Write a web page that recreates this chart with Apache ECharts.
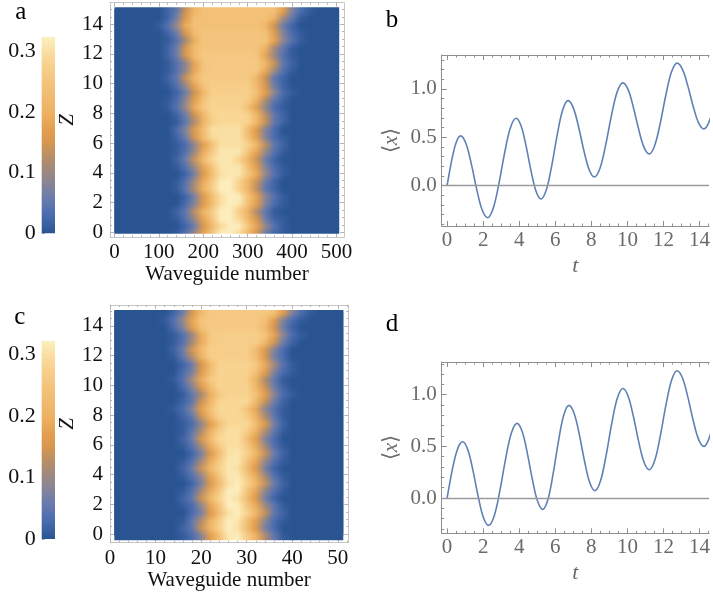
<!DOCTYPE html>
<html><head><meta charset="utf-8">
<script src="https://cdn.jsdelivr.net/npm/echarts@6/dist/echarts.min.js"></script>
<style>html,body{margin:0;padding:0;background:#fff}#c{width:713px;height:597px}</style>
</head><body><div id="c"></div>
<script>
// ---------------- data ----------------
const tTicks = [0, 2, 4, 6, 8, 10, 12, 14];
const meanXTicks = [0, 0.5, 1.0];
const zTicks = [0, 2, 4, 6, 8, 10, 12, 14];
const waveTicksA = [0, 100, 200, 300, 400, 500];
const waveTicksC = [0, 10, 20, 30, 40, 50];
const cbarTicks = [0, 0.1, 0.2, 0.3];

// heat map sample grid
const colsA = [0,20,40,60,80,100,120,140,160,180,200,220,240,260,280,300,320,340,360,380,400,420,440,460,480,500];
const colsC = [0,2,4,6,8,10,12,14,16,18,20,22,24,26,28,30,32,34,36,38,40,42,44,46,48,50];
const zRows = [0,0.5,1,1.5,2,2.5,3,3.5,4,4.5,5,5.5,6,6.5,7,7.5,8,8.5,9,9.5,10,10.5,11,11.5,12,12.5,13,13.5,14,14.5,15];

// intensity in units of 0.01 (rows = zRows, columns = colsA / colsC)
const intensityA = [
[0,0,0,0,0,0,0,1,4,10,18,25,32,32,29,22,15,6,2,1,0,0,0,0,0,0],
[0,0,0,0,0,0,0,0,2,6,15,22,29,32,32,26,18,10,4,1,0,0,0,0,0,0],
[0,0,0,0,0,0,0,1,4,10,18,25,32,32,29,22,15,6,2,1,0,0,0,0,0,0],
[0,0,0,0,0,0,0,2,5,13,20,27,32,32,27,20,12,5,1,0,0,0,0,0,0,0],
[0,0,0,0,0,0,0,0,3,8,16,23,30,32,31,24,17,8,3,1,0,0,0,0,0,0],
[0,0,0,0,0,0,0,0,2,7,16,23,30,32,32,25,18,9,4,1,0,0,0,0,0,0],
[0,0,0,0,0,0,0,1,5,12,20,27,32,32,28,21,13,5,2,0,0,0,0,0,0,0],
[0,0,0,0,0,0,0,1,4,11,19,26,32,32,28,21,14,6,2,0,0,0,0,0,0,0],
[0,0,0,0,0,0,0,0,2,7,16,23,30,31,31,26,19,10,4,1,0,0,0,0,0,0],
[0,0,0,0,0,0,0,1,4,10,18,25,31,31,31,24,17,8,3,1,0,0,0,0,0,0],
[0,0,0,0,0,0,0,2,6,14,22,29,31,31,28,21,14,6,2,0,0,0,0,0,0,0],
[0,0,0,0,0,0,0,1,4,10,19,26,31,31,31,25,18,10,4,1,0,0,0,0,0,0],
[0,0,0,0,0,0,0,1,3,9,17,24,30,30,30,28,21,13,5,2,0,0,0,0,0,0],
[0,0,0,0,0,0,0,2,6,15,22,29,30,30,30,24,17,8,3,1,0,0,0,0,0,0],
[0,0,0,0,0,0,0,3,8,16,23,30,30,30,30,23,16,8,3,0,0,0,0,0,0,0],
[0,0,0,0,0,0,0,1,5,12,20,27,29,29,29,28,21,14,5,2,0,0,0,0,0,0],
[0,0,0,0,0,0,0,2,6,14,21,28,29,29,29,28,21,13,5,2,0,0,0,0,0,0],
[0,0,0,0,0,0,1,4,10,19,26,28,28,28,28,24,17,9,3,1,0,0,0,0,0,0],
[0,0,0,0,0,0,1,3,9,17,24,28,28,28,28,27,20,12,5,2,0,0,0,0,0,0],
[0,0,0,0,0,0,0,2,6,14,21,27,27,27,27,27,24,17,9,3,1,0,0,0,0,0],
[0,0,0,0,0,0,1,4,10,18,25,27,27,27,27,27,22,15,6,2,0,0,0,0,0,0],
[0,0,0,0,0,0,2,5,14,21,26,26,26,26,26,26,21,14,5,2,0,0,0,0,0,0],
[0,0,0,0,0,0,1,4,9,18,25,26,26,26,26,26,26,19,11,4,1,0,0,0,0,0],
[0,0,0,0,0,0,1,4,9,18,25,26,26,26,26,26,26,21,14,5,2,0,0,0,0,0],
[0,0,0,0,0,0,2,6,15,22,26,26,26,26,26,26,25,18,10,4,1,0,0,0,0,0],
[0,0,0,0,0,0,2,6,15,22,25,25,25,25,25,25,25,20,11,5,1,0,0,0,0,0],
[0,0,0,0,0,0,1,4,11,19,25,25,25,25,25,25,25,25,18,9,4,1,0,0,0,0],
[0,0,0,0,0,0,2,6,15,22,25,25,25,25,25,25,25,24,17,8,3,1,0,0,0,0],
[0,0,0,0,0,1,4,10,19,24,24,24,24,24,24,24,24,21,14,6,2,0,0,0,0,0],
[0,0,0,0,0,0,2,7,16,23,24,24,24,24,24,24,24,24,20,11,5,1,0,0,0,0],
[0,0,0,0,0,0,2,5,14,21,24,24,24,24,24,24,24,24,24,17,8,3,1,0,0,0]
];
const intensityC = [
[0,0,0,0,0,0,0,0,1,3,8,17,24,31,32,27,20,12,5,1,0,0,0,0,0,0],
[0,0,0,0,0,0,0,0,2,5,14,21,28,32,30,23,16,7,3,0,0,0,0,0,0,0],
[0,0,0,0,0,0,0,0,1,5,12,20,27,32,31,24,17,9,3,1,0,0,0,0,0,0],
[0,0,0,0,0,0,0,0,0,3,7,16,23,30,32,28,21,14,5,2,0,0,0,0,0,0],
[0,0,0,0,0,0,0,0,1,3,9,18,25,32,32,26,19,11,5,1,0,0,0,0,0,0],
[0,0,0,0,0,0,0,0,2,5,14,21,28,32,30,23,16,7,2,0,0,0,0,0,0,0],
[0,0,0,0,0,0,0,0,1,4,11,19,26,32,32,25,18,9,4,1,0,0,0,0,0,0],
[0,0,0,0,0,0,0,0,0,2,7,16,23,30,32,28,21,14,6,2,0,0,0,0,0,0],
[0,0,0,0,0,0,0,0,1,4,9,18,25,31,31,26,19,11,4,1,0,0,0,0,0,0],
[0,0,0,0,0,0,0,0,2,6,14,21,28,31,30,23,16,7,2,0,0,0,0,0,0,0],
[0,0,0,0,0,0,0,0,1,4,11,19,26,31,31,25,18,10,4,1,0,0,0,0,0,0],
[0,0,0,0,0,0,0,0,0,2,7,16,23,30,31,28,21,14,6,2,0,0,0,0,0,0],
[0,0,0,0,0,0,0,0,1,4,11,19,26,30,30,26,19,11,4,1,0,0,0,0,0,0],
[0,0,0,0,0,0,0,0,2,6,15,22,29,30,30,24,17,8,3,0,0,0,0,0,0,0],
[0,0,0,0,0,0,0,0,1,5,12,20,27,30,30,27,20,12,5,1,0,0,0,0,0,0],
[0,0,0,0,0,0,0,0,1,3,9,17,24,29,29,29,23,16,7,2,0,0,0,0,0,0],
[0,0,0,0,0,0,0,0,2,5,14,21,28,29,29,27,20,12,5,1,0,0,0,0,0,0],
[0,0,0,0,0,0,0,1,3,8,17,24,29,29,29,25,18,9,4,1,0,0,0,0,0,0],
[0,0,0,0,0,0,0,0,2,5,14,21,28,29,29,29,22,14,6,2,0,0,0,0,0,0],
[0,0,0,0,0,0,0,0,1,5,11,19,26,28,28,28,24,17,9,3,1,0,0,0,0,0],
[0,0,0,0,0,0,0,0,3,8,16,23,28,28,28,28,21,14,6,2,0,0,0,0,0,0],
[0,0,0,0,0,0,0,1,4,11,19,26,28,28,28,27,20,12,5,1,0,0,0,0,0,0],
[0,0,0,0,0,0,0,0,3,7,16,23,28,28,28,28,24,17,8,3,1,0,0,0,0,0],
[0,0,0,0,0,0,0,0,2,6,15,22,28,28,28,28,26,19,11,4,1,0,0,0,0,0],
[0,0,0,0,0,0,0,1,5,12,20,27,27,27,27,27,23,16,7,3,0,0,0,0,0,0],
[0,0,0,0,0,0,0,2,6,15,22,27,27,27,27,27,23,16,8,3,0,0,0,0,0,0],
[0,0,0,0,0,0,0,1,4,11,19,26,27,27,27,27,27,22,15,6,2,0,0,0,0,0],
[0,0,0,0,0,0,0,1,4,10,19,26,27,27,27,27,27,25,18,9,3,1,0,0,0,0],
[0,0,0,0,0,0,0,3,8,17,24,26,26,26,26,26,26,22,15,6,2,0,0,0,0,0],
[0,0,0,0,0,0,1,4,10,18,25,26,26,26,26,26,26,24,17,8,3,1,0,0,0,0],
[0,0,0,0,0,0,0,2,6,15,22,26,26,26,26,26,26,26,24,17,8,3,1,0,0,0]
];

// <x>(t) curves
const tB = [0,0.15,0.3,0.45,0.6,0.75,1.048,1.346,1.644,1.942,2.24,2.558,2.876,3.194,3.512,3.83,4.106,4.382,4.658,4.934,5.21,5.51,5.81,6.11,6.41,6.71,7.002,7.294,7.586,7.878,8.17,8.486,8.802,9.118,9.434,9.75,10.042,10.334,10.626,10.918,11.21,11.52,11.83,12.14,12.45,12.76,13.056,13.352,13.648,13.944,14.24,14.552,14.864,15.176,15.488];
const xB = [0,0.159,0.302,0.416,0.489,0.514,0.433,0.222,-0.039,-0.250,-0.331,-0.233,0.024,0.342,0.599,0.697,0.617,0.409,0.150,-0.058,-0.138,-0.041,0.213,0.528,0.782,0.879,0.804,0.606,0.363,0.165,0.090,0.183,0.426,0.726,0.969,1.062,0.992,0.808,0.582,0.398,0.328,0.418,0.652,0.942,1.176,1.266,1.201,1.031,0.821,0.651,0.586,0.669,0.885,1.151,1.367];
const tD = [0,0.172,0.344,0.516,0.688,0.86,1.148,1.436,1.724,2.012,2.30,2.616,2.932,3.248,3.564,3.88,4.164,4.448,4.732,5.016,5.30,5.592,5.884,6.176,6.468,6.76,7.048,7.336,7.624,7.912,8.20,8.51,8.82,9.13,9.44,9.75,10.042,10.334,10.626,10.918,11.21,11.52,11.83,12.14,12.45,12.76,13.056,13.352,13.648,13.944,14.24,14.552,14.864,15.176,15.488];
const xD = [0,0.168,0.320,0.441,0.518,0.545,0.468,0.265,0.015,-0.188,-0.265,-0.171,0.076,0.382,0.629,0.723,0.643,0.435,0.178,-0.030,-0.110,-0.014,0.238,0.549,0.801,0.897,0.818,0.612,0.356,0.150,0.071,0.166,0.413,0.719,0.966,1.061,0.986,0.789,0.546,0.349,0.274,0.365,0.605,0.901,1.141,1.232,1.162,0.979,0.753,0.570,0.500,0.588,0.818,1.102,1.332];

// colour scale
const paletteVals = [0, 0.03, 0.06, 0.09, 0.12, 0.15, 0.17, 0.20, 0.25, 0.29, 0.324];
const paletteCols = ['#2a5491','#4a6cb0','#6c7dab','#8f8690','#b08c6c','#d6974f','#e29e4e','#eeb263','#f4c47c','#f9d896','#fdf0c2'];

// ---------------- helpers ----------------
const FONT = "'Liberation Serif','Times New Roman',serif";
function hexToRgb(h){return [parseInt(h.slice(1,3),16),parseInt(h.slice(3,5),16),parseInt(h.slice(5,7),16)];}
const palRgb = paletteCols.map(hexToRgb);
function colorOf(v){
  if (v <= paletteVals[0]) return paletteCols[0];
  for (let i = 1; i < paletteVals.length; i++) {
    if (v <= paletteVals[i]) {
      const t = (v - paletteVals[i-1]) / (paletteVals[i] - paletteVals[i-1]);
      const a = palRgb[i-1], b = palRgb[i];
      return 'rgb(' + Math.round(a[0]+(b[0]-a[0])*t) + ',' + Math.round(a[1]+(b[1]-a[1])*t) + ',' + Math.round(a[2]+(b[2]-a[2])*t) + ')';
    }
  }
  return paletteCols[paletteCols.length-1];
}
function steps(a, b, s){const r=[];for(let v=a;v<=b+1e-9;v+=s)r.push(Math.round(v*1000)/1000);return r;}

const grids = [], xAxes = [], yAxes = [];
function mkAxis(g, pos, min, max, o){
  return {
    gridIndex: g, type: 'value', position: pos, min: min, max: max,
    splitLine: {show: false},
    axisLine: {show: !!o.line, onZero: false, lineStyle: {color: o.lineColor || '#999', width: 1}},
    axisTick: {show: !!o.ticks, inside: true, length: o.len || 3, customValues: o.ticks || [], lineStyle: {color: o.tickColor || '#999', width: 1}},
    axisLabel: o.labels ? {show: true, customValues: o.labels, formatter: o.fmt, color: o.labelColor, fontFamily: FONT, fontSize: o.fs, margin: o.margin} : {show: false},
    name: o.name || '', nameLocation: 'middle', nameGap: o.nameGap || 0, nameRotate: o.nameRotate,
    nameTextStyle: o.nameStyle || {}
  };
}
function frame(rect, xr, yr, s){
  const g = grids.length; grids.push(Object.assign({containLabel: false, show: false}, rect));
  const xi = xAxes.length;
  xAxes.push(mkAxis(g,'bottom',xr[0],xr[1],{line:true,lineColor:s.frame,ticks:s.xMaj,len:s.maj,tickColor:s.tick,labels:s.xMaj,fmt:s.xFmt,labelColor:s.label,fs:s.fs,margin:s.xMargin,name:s.xName,nameGap:s.xNameGap,nameStyle:s.xNameStyle}));
  xAxes.push(mkAxis(g,'bottom',xr[0],xr[1],{ticks:s.xMin,len:s.min,tickColor:s.tick}));
  xAxes.push(mkAxis(g,'top',xr[0],xr[1],{line:true,lineColor:s.frame,ticks:s.xMaj,len:s.maj,tickColor:s.tick}));
  xAxes.push(mkAxis(g,'top',xr[0],xr[1],{ticks:s.xMin,len:s.min,tickColor:s.tick}));
  const yi = yAxes.length;
  yAxes.push(mkAxis(g,'left',yr[0],yr[1],{line:true,lineColor:s.frame,ticks:s.yMaj,len:s.maj,tickColor:s.tick,labels:s.yMaj,fmt:s.yFmt,labelColor:s.label,fs:s.fs,margin:s.yMargin,name:s.yName,nameGap:s.yNameGap,nameRotate:90,nameStyle:s.yNameStyle}));
  yAxes.push(mkAxis(g,'left',yr[0],yr[1],{ticks:s.yMin,len:s.min,tickColor:s.tick}));
  if (!s.noRight) {
    yAxes.push(mkAxis(g,'right',yr[0],yr[1],{line:true,lineColor:s.frame,ticks:s.yMaj,len:s.maj,tickColor:s.tick}));
    yAxes.push(mkAxis(g,'right',yr[0],yr[1],{ticks:s.yMin,len:s.min,tickColor:s.tick}));
  }
  return {xi: xi, yi: yi};
}
function colorbar(rect, cmax){
  const g = grids.length; grids.push(Object.assign({containLabel: false, show: false}, rect));
  const xi = xAxes.length;
  xAxes.push({gridIndex: g, type: 'value', min: 0, max: 1, show: false});
  const yi = yAxes.length;
  yAxes.push(mkAxis(g,'left',0,cmax,{ticks:steps(0,0.32,0.02),len:3,tickColor:'#aaa',labels:cbarTicks,fmt:v=>v===0?'0':v.toFixed(1),labelColor:'#111',fs:22,margin:6}));
  return {
    type: 'custom', xAxisIndex: xi, yAxisIndex: yi, data: [[0, 0]], encode: {x: 0, y: 1}, silent: true,
    renderItem: function(params, api){
      const p0 = api.coord([0, cmax]), p1 = api.coord([1, 0]);
      const stops = paletteVals.filter(v => v <= cmax).map(v => ({offset: v / cmax, color: colorOf(v)}));
      stops.push({offset: 1, color: colorOf(cmax)});
      return {type: 'rect', shape: {x: p0[0], y: p0[1], width: p1[0]-p0[0], height: p1[1]-p0[1]},
        style: {fill: new echarts.graphic.LinearGradient(0, 1, 0, 0, stops)}};
    }
  };
}
// density plot: each data row is shaded with a horizontal colour gradient, and the
// space between two sampled rows is blended in thin strips (smooth shading, like the original)
function heatSeries(ax, cols, rows, vals, ext){
  const S = 6;
  const data = rows.map((z, i) => [ext.x0, z].concat(vals[i].map(v => v / 100)));
  return {
    type: 'custom', xAxisIndex: ax.xi, yAxisIndex: ax.yi, data: data, encode: {x: 0, y: 1}, silent: true, clip: true,
    renderItem: function(params, api){
      const i = params.dataIndex, n = rows.length;
      const z = api.value(1);
      const xL = api.coord([ext.x0, z])[0], xR = api.coord([ext.x1, z])[0], w = xR - xL;
      const offs = cols.map(c => (api.coord([c, z])[0] - xL) / w);
      const cur = cols.map((c, k) => api.value(k + 2));
      const children = [];
      const strip = (za, zb, arr, last) => {
        const pa = api.coord([ext.x0, za])[1], pb = api.coord([ext.x0, zb])[1];
        const top = Math.min(pa, pb), bot = Math.max(pa, pb);
        const stops = [];
        offs.forEach((o, k) => { if (o >= 0 && o <= 1) stops.push({offset: o, color: colorOf(arr[k])}); });
        // strips overlap generously (later strips are drawn over earlier ones) so no seams appear
        children.push({type: 'rect', shape: {x: xL, y: top - (last ? 0 : 0.2), width: w, height: bot - top + 1.5 + (last ? 0 : 0.2)},
          style: {fill: new echarts.graphic.LinearGradient(0, 0, 1, 0, stops)}});
      };
      if (i === 0 && ext.z0 < z) strip(ext.z0, z, cur, false);
      if (i === n - 1) {
        if (ext.z1 > z) strip(z, ext.z1, cur, true);
      } else {
        const nz = rows[i + 1];
        const nxt = vals[i + 1].map(v => v / 100);
        for (let j = 0; j < S; j++) {
          const t = (j + 0.5) / S;
          strip(z + (nz - z) * j / S, z + (nz - z) * (j + 1) / S, cur.map((v, k) => v * (1 - t) + nxt[k] * t), false);
        }
      }
      return {type: 'group', children: children};
    }
  };
}

// ---------------- panels ----------------
const heatStyle = {frame:'#c6c6c6', tick:'#b4b4b4', label:'#111', fs:21, maj:4, min:2,
  yMaj: zTicks, yMin: steps(0,15,0.5), yFmt: v => String(v), xMargin:5, yMargin:7,
  xName:'Waveguide number', xNameGap:23, xNameStyle:{color:'#111', fontFamily:FONT, fontSize:21},
  yName:'Z', yNameGap:22, yNameStyle:{color:'#111', fontFamily:FONT, fontSize:21, fontStyle:'italic'}};
const axA = frame({left:110, top:2.7, width:234, height:234.6}, [-10, 517], [-0.34, 15.45],
  Object.assign({}, heatStyle, {xMaj: waveTicksA, xMin: steps(0,500,20), xFmt: v => String(v)}));
const axC = frame({left:110, top:305, width:238.3, height:237.7}, [0, 52.3], [-0.58, 15.4],
  Object.assign({}, heatStyle, {xMaj: waveTicksC, xMin: steps(0,52,2), xFmt: v => String(v)}));

const lineStyleCfg = {frame:'#8e8e8e', tick:'#8e8e8e', label:'#6a6a6a', fs:21, maj:5, min:2.5, noRight:true,
  xMaj: tTicks, xMin: steps(0,14.5,0.5), xFmt: v => String(v),
  yMaj: meanXTicks, yMin: steps(-0.4,1.3,0.1), yFmt: v => v.toFixed(1), xMargin:4, yMargin:5,
  xName:'t', xNameGap:29, xNameStyle:{color:'#6a6a6a', fontFamily:FONT, fontSize:22, fontStyle:'italic'},
  yName:'{b|⟨}{i|x}{b|⟩}', yNameGap:40, yNameStyle:{color:'#6a6a6a', fontFamily:FONT, fontSize:21,
    rich:{b:{color:'#6a6a6a', fontFamily:FONT, fontSize:21}, i:{color:'#6a6a6a', fontFamily:FONT, fontSize:21, fontStyle:'italic'}}}};
const axB = frame({left:441.7, top:55, width:271.3, height:171}, [-0.3, 14.53], [-0.417, 1.35], lineStyleCfg);
const axD = frame({left:441.7, top:362, width:271.3, height:171.3}, [-0.3, 14.53], [-0.342, 1.317], lineStyleCfg);

const series = [
  heatSeries(axA, colsA, zRows, intensityA, {x0: 0, x1: 506, z0: 0, z1: 15.15}),
  heatSeries(axC, colsC, zRows, intensityC, {x0: 0.95, x1: 51.2, z0: -0.31, z1: 15.07}),
  colorbar({left:41.7, top:36.7, width:13.3, height:196.6}, 0.324),
  colorbar({left:41.7, top:341, width:13.3, height:198}, 0.322)
];
function meanLine(ax, t, x){
  return {type:'line', xAxisIndex: ax.xi, yAxisIndex: ax.yi, data: t.map((v,i)=>[v, x[i]]),
    showSymbol:false, smooth:0.35, silent:true, lineStyle:{color:'#5e81b5', width:1.6},
    markLine:{silent:true, symbol:'none', label:{show:false}, data:[{yAxis:0}], lineStyle:{color:'#9a9a9a', width:1.3, type:'solid'}}};
}
series.push(meanLine(axB, tB, xB));
series.push(meanLine(axD, tD, xD));

const letter = (txt, x, y) => ({type:'text', x: x, y: y, style:{text: txt, fill:'#000', font: '25px ' + FONT, align:'center', verticalAlign:'middle'}});

const chart = echarts.init(document.getElementById('c'), null, {renderer:'canvas'});
chart.setOption({
  animation: false,
  backgroundColor: '#fff',
  grid: grids, xAxis: xAxes, yAxis: yAxes, series: series,
  graphic: [letter('a', 20.8, 12.5), letter('b', 392, 20.5), letter('c', 19.7, 317), letter('d', 392, 324.5)]
});
</script></body></html>
